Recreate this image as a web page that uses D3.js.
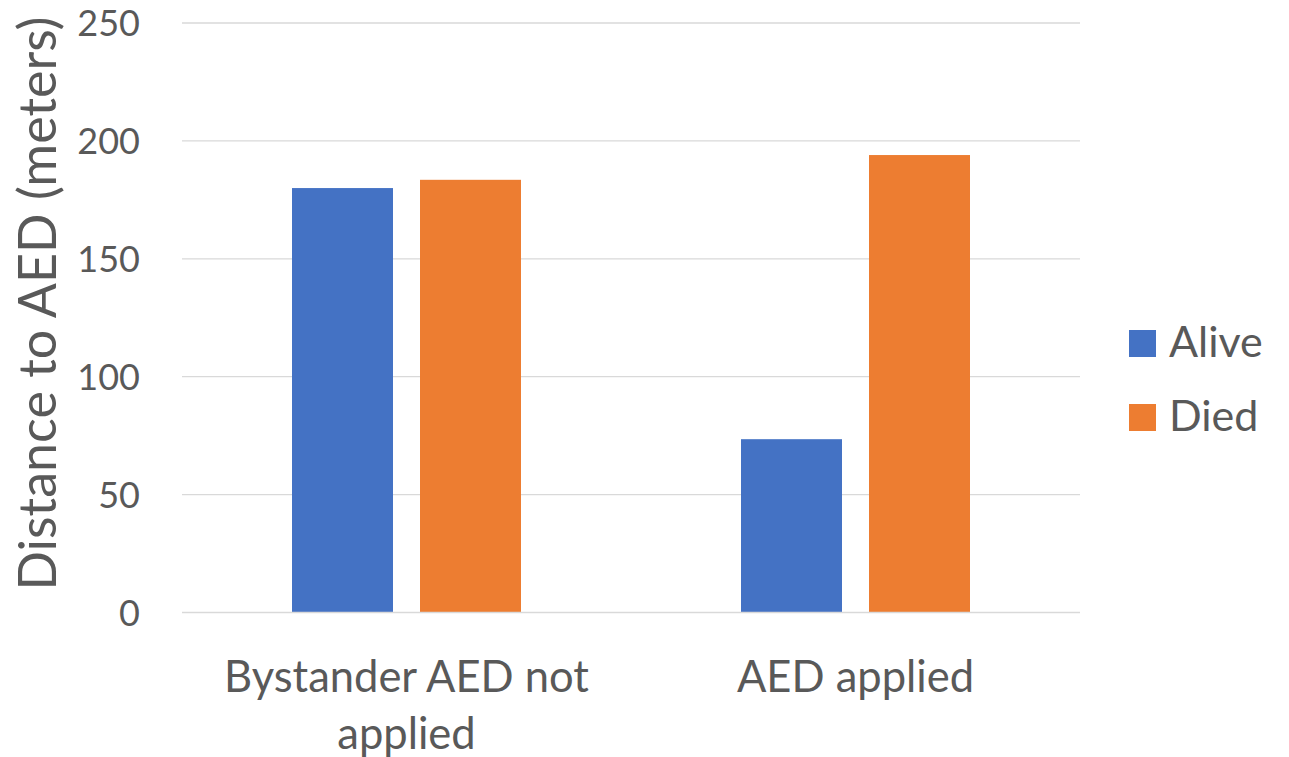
<!DOCTYPE html>
<html>
<head>
<meta charset="utf-8">
<script src="https://cdn.jsdelivr.net/npm/d3@7"></script>
<style>
  html, body { margin: 0; padding: 0; background: #fff; }
  svg text { font-family: Lato, "Open Sans", sans-serif; fill: #595959; }
</style>
</head>
<body>
<svg id="chart" width="1289" height="757"></svg>
<script>
// Mean distance to nearest AED, by bystander AED use and outcome
const categories = [["Bystander AED not", "applied"], ["AED applied"]];
const categoryKeys = ["Bystander AED not applied", "AED applied"];
const seriesNames = ["Alive", "Died"];
const alive = [180, 73.5];
const died = [183.5, 194];
const yTicks = [0, 50, 100, 150, 200, 250];
const colors = ["#4472C4", "#ED7D31"];

const svg = d3.select("#chart");
const plot = { left: 182, right: 1080, top: 23, bottom: 612.5 };

const y = d3.scaleLinear().domain([0, 250]).range([plot.bottom, plot.top]);
const x0 = d3.scaleBand().domain(categoryKeys).range([plot.left, plot.right])
  .paddingInner(0).paddingOuter(0);
const groupWidth = 229;
const x1 = d3.scaleBand().domain(seriesNames).range([0, groupWidth]).paddingInner(0.211);

// gridlines
svg.append("g").selectAll("line").data(yTicks.filter(d => d > 0)).join("line")
  .attr("x1", plot.left).attr("x2", plot.right)
  .attr("y1", d => y(d)).attr("y2", d => y(d))
  .attr("stroke", "#D9D9D9").attr("stroke-width", 1.3);

// y tick labels
const yAxis = d3.axisLeft(y).tickValues(yTicks).tickSize(0).tickPadding(0);
const ya = svg.append("g").attr("transform", `translate(140,0)`).call(yAxis);
ya.select(".domain").remove();
ya.selectAll("text").attr("font-size", 36).attr("dy", "0.36em")
  .style("font-family", "Lato, sans-serif").attr("fill", "#595959");

// bars
const rows = categoryKeys.map((c, i) => ({ cat: c, values: [alive[i], died[i]] }));
const groups = svg.append("g").selectAll("g").data(rows).join("g")
  .attr("transform", d => `translate(${x0(d.cat) + (x0.bandwidth() - groupWidth) / 2},0)`);
groups.selectAll("rect").data(d => d.values.map((v, j) => ({ name: seriesNames[j], v, j })))
  .join("rect")
  .attr("x", d => x1(d.name)).attr("width", x1.bandwidth())
  .attr("y", d => y(d.v)).attr("height", d => y(0) - y(d.v))
  .attr("fill", d => colors[d.j]);

// baseline axis
svg.append("line").attr("x1", plot.left).attr("x2", plot.right)
  .attr("y1", plot.bottom).attr("y2", plot.bottom)
  .attr("stroke", "#D9D9D9").attr("stroke-width", 1.5);

// category labels
const xl = svg.append("g").selectAll("text").data(categories).join("text")
  .attr("x", (d, i) => x0(categoryKeys[i]) + x0.bandwidth() / 2)
  .attr("y", 692)
  .attr("text-anchor", "middle").attr("font-size", 43.5);
xl.selectAll("tspan").data(d => d).join("tspan")
  .attr("x", function() { return d3.select(this.parentNode).attr("x"); })
  .attr("dy", (d, i) => i === 0 ? 0 : 57)
  .text(d => d);

// y axis title
svg.append("text")
  .attr("transform", `translate(56,${303.5}) rotate(-90)`)
  .attr("text-anchor", "middle").attr("font-size", 52)
  .text("Distance to AED (meters)");

// legend
const legend = svg.append("g").selectAll("g").data(seriesNames).join("g")
  .attr("transform", (d, i) => `translate(1129,${330 + i * 74})`);
legend.append("rect").attr("width", 27).attr("height", 27).attr("fill", (d, i) => colors[i]);
legend.append("text").attr("x", 40).attr("y", 27).attr("font-size", 43).text(d => d);
</script>
</body>
</html>
